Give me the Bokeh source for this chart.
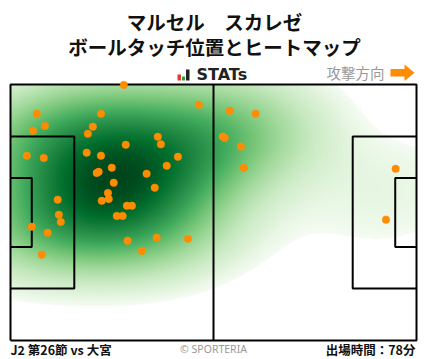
import numpy as np
from bokeh.plotting import figure
from bokeh.models import Range1d, Label, LinearColorMapper
from bokeh.palettes import Greens256
from bokeh.embed import file_html
from bokeh.resources import INLINE

# ---- data (pitch metres: x 0..105 attacking to the right, y 0..68) ----
touch_x = [29.3, 48.7, 6.8, 23.4, 8.9, 5.8, 21.3, 20.0, 38.1, 38.9, 29.8, 4.2,
           8.6, 19.7, 23.4, 43.3, 40.4, 26.2, 22.3, 22.8, 35.2, 26.7, 37.3, 25.2,
           25.4, 23.6, 12.2, 30.1, 31.4, 12.5, 13.0, 27.5, 29.0, 5.5, 9.6, 30.3,
           37.8, 45.9, 34.0, 8.1, 56.7, 63.4, 54.9, 55.4, 59.6, 60.3, 99.6, 97.1]
touch_y = [67.9, 62.6, 60.2, 60.2, 57.0, 55.7, 56.8, 54.9, 54.1, 52.1, 52.0, 49.1,
           48.5, 49.9, 49.1, 48.8, 46.4, 45.9, 44.5, 44.8, 44.3, 41.9, 40.6, 39.2,
           37.6, 37.1, 37.4, 35.8, 35.8, 33.4, 31.5, 33.1, 33.1, 30.2, 28.6, 26.5,
           27.3, 27.0, 23.8, 22.8, 61.0, 60.2, 54.2, 53.8, 51.5, 45.9, 45.6, 32.1]

title_1 = "マルセル　スカレゼ"
title_2 = "ボールタッチ位置とヒートマップ"
brand = "STATs"
direction = "攻撃方向"
match_label = "J2 第26節 vs 大宮"
credit = "© SPORTERIA"
minutes_label = "出場時間：78分"

PITCH_L, PITCH_W = 105.0, 68.0

# ---- kde heat (gaussian kernel, iso-proportion colouring, 5% mass threshold) ----
pts = np.vstack([touch_x, touch_y])
n = pts.shape[1]
factor = n ** (-1.0 / 6.0) * 1.5
cov = np.cov(pts) * factor ** 2
inv = np.linalg.inv(cov)


def kde(X, Y):
    out = np.zeros_like(X)
    for xi, yi in zip(touch_x, touch_y):
        dx = X - xi
        dy = Y - yi
        q = inv[0, 0] * dx * dx + 2 * inv[0, 1] * dx * dy + inv[1, 1] * dy * dy
        out += np.exp(-0.5 * q)
    return out


ex = np.linspace(-60, 165, 450)
ey = np.linspace(-45, 113, 316)
EX, EY = np.meshgrid(ex, ey)
ed = np.sort(kde(EX, EY).ravel())
cum = np.cumsum(ed)
cum = cum / cum[-1]

NX, NY = 406, 256
gx = (np.arange(NX) + 0.5) * PITCH_L / NX
gy = (np.arange(NY) + 0.5) * PITCH_W / NY
GX, GY = np.meshgrid(gx, gy)
gd = kde(GX, GY)
prop = np.interp(gd, ed, cum)
thresh = 0.05
shade = ((prop - thresh) / (1 - thresh)).clip(0, 1) ** 0.7
heat = np.where(prop < thresh, np.nan, shade).astype(np.float32)

pal = list(Greens256)
if pal[0].lower() == "#00441b":
    pal = pal[::-1]
mapper = LinearColorMapper(palette=pal, low=0.0, high=1.0,
                           nan_color="rgba(0,0,0,0)")

# ---- layout (page pixels; the page has no margin) ----
W, H = 428, 359
pitch_px_left, pitch_px_right = 10, 416
pitch_px_top, pitch_px_bottom = 84, 340
kx = (pitch_px_right - pitch_px_left) / PITCH_L
ky = (pitch_px_bottom - pitch_px_top) / PITCH_W
x0 = -pitch_px_left / kx
x1 = x0 + W / kx
y1 = PITCH_W + pitch_px_top / ky
y0 = y1 - H / ky


def PX(xp):
    return x0 + xp / kx


def PY(yp):
    return y1 - yp / ky


p = figure(width=W, height=H, output_backend="svg", toolbar_location=None,
           x_range=Range1d(x0, x1), y_range=Range1d(y0, y1),
           x_axis_type=None, y_axis_type=None, min_border=0,
           outline_line_color=None, background_fill_color="white",
           border_fill_color="white")
p.xgrid.visible = False
p.ygrid.visible = False

p.image(image=[heat], x=0, y=0, dw=PITCH_L, dh=PITCH_W, color_mapper=mapper)

lc = "black"
lw = 2
p.line([0, PITCH_L, PITCH_L, 0, 0], [0, 0, PITCH_W, PITCH_W, 0], line_color=lc, line_width=lw)
p.line([PITCH_L / 2, PITCH_L / 2], [0, PITCH_W], line_color=lc, line_width=lw)
pb_d, pb_w = 16.5, 40.32
ga_d, ga_w = 5.5, 18.32
cy = PITCH_W / 2
for d, w in [(pb_d, pb_w), (ga_d, ga_w)]:
    p.line([0, d, d, 0], [cy - w / 2, cy - w / 2, cy + w / 2, cy + w / 2], line_color=lc, line_width=lw)
    p.line([PITCH_L, PITCH_L - d, PITCH_L - d, PITCH_L],
           [cy - w / 2, cy - w / 2, cy + w / 2, cy + w / 2], line_color=lc, line_width=lw)

orange = "#ff8c00"
p.scatter(touch_x, touch_y, size=7.5, fill_color=orange, line_color=orange, line_width=0.5)

jp = "Noto Sans CJK JP"
p.add_layout(Label(x=PX(214), y=PY(21), text=title_1, text_font=jp, text_font_size="19.5px",
                   text_font_style="bold", text_align="center", text_baseline="middle",
                   text_color="#111111"))
p.add_layout(Label(x=PX(214), y=PY(46), text=title_2, text_font=jp, text_font_size="19.5px",
                   text_font_style="bold", text_align="center", text_baseline="middle",
                   text_color="#111111"))

p.quad(left=[PX(177), PX(181.5), PX(185.5)], right=[PX(180.5), PX(184.5), PX(189)],
       bottom=[PY(80)] * 3, top=[PY(74), PY(76), PY(69)],
       fill_color=["#e53935", "#2e9e3e", "#222222"], line_color=None)
p.add_layout(Label(x=PX(196), y=PY(74), text=brand, text_font="DejaVu Sans", text_font_size="16px",
                   text_font_style="bold", text_align="left", text_baseline="middle",
                   text_color="#222222"))

p.add_layout(Label(x=PX(326), y=PY(72), text=direction, text_font=jp, text_font_size="14.5px",
                   text_align="left", text_baseline="middle", text_color="#999999"))
p.patch([PX(390), PX(404), PX(404), PX(414), PX(404), PX(404), PX(390)],
        [PY(68.5), PY(68.5), PY(64), PY(72.3), PY(80.5), PY(76), PY(76)],
        fill_color=orange, line_color=None)

p.add_layout(Label(x=PX(10), y=PY(349), text=match_label, text_font=jp, text_font_size="12.5px",
                   text_font_style="bold", text_align="left", text_baseline="middle",
                   text_color="#111111"))
p.add_layout(Label(x=PX(213), y=PY(348), text=credit, text_font="Noto Sans", text_font_size="10.5px",
                   text_align="center", text_baseline="middle", text_color="#999999"))
p.add_layout(Label(x=PX(415), y=PY(349), text=minutes_label, text_font=jp, text_font_size="12.5px",
                   text_font_style="bold", text_align="right", text_baseline="middle",
                   text_color="#111111"))

open("out.html", "w").write(file_html(p, INLINE))
